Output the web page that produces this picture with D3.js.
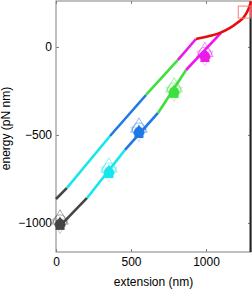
<!DOCTYPE html>
<html>
<head>
<meta charset="utf-8">
<script src="https://d3js.org/d3.v7.min.js"></script>
<style>
  body { margin: 0; background: #fff; }
  svg { display: block; }
</style>
</head>
<body>
<svg width="252" height="290"></svg>
<script>
// state colours (dark -> red)
var stateColors = ["#454545", "#19e6ec", "#1f78e6", "#3ee03e", "#ec18ec", "#e60d0d"];

// upper branch, one polyline per colour [extension nm, energy pN nm]
var upperX = [[0, 73], [73, 360], [360, 600], [600, 813], [813, 933]];
var upperY = [[-864, -801], [-801, -506], [-506, -273], [-273, -74], [-74, 45]];

// lower branch
var lowerX = [[27, 207], [207, 460], [460, 680], [680, 867], [867, 1100]];
var lowerY = [[-1017, -858], [-858, -585], [-585, -375], [-375, -131], [-131, 80]];

// red curve (unfolded)
var redX = [933, 1027, 1093, 1160, 1207, 1253, 1280, 1300];
var redY = [45, 63, 80, 108, 136, 170, 210, 256];

// markers at each state
var markX = [27, 353, 553, 787, 993];
var markY = [-1011, -716, -489, -261, -57];
var openY = [-985, -690, -463, -235, -33];

// red square marker
var sqX = [1255];
var sqY = [198];

var xTicks = [0, 500, 1000];
var yTicks = [-1000, -500, 0];

var svg = d3.select("svg"),
    mLeft = 56, mRight = 251, mTop = 1, mBottom = 252;

var x = d3.scaleLinear().domain([0, 1300]).range([mLeft, mRight]);
var y = d3.scaleLinear().domain([-1165, 261]).range([mBottom, mTop]);

var font = "'Liberation Sans', Arial, Helvetica, sans-serif";
var axisColor = "#808080";

// frame
svg.append("rect")
    .attr("x", mLeft).attr("y", mTop)
    .attr("width", mRight - mLeft).attr("height", mBottom - mTop)
    .attr("fill", "none")
    .attr("stroke", axisColor)
    .attr("stroke-width", 1);

// axes (ticks inward)
var gx = svg.append("g")
    .attr("transform", "translate(0," + mBottom + ")")
    .call(d3.axisBottom(x).tickValues(xTicks).tickSize(-3).tickPadding(5).tickFormat(d3.format("d")));
var gxt = svg.append("g")
    .attr("transform", "translate(0," + mTop + ")")
    .call(d3.axisTop(x).tickValues(xTicks).tickSize(-3).tickFormat(""));
var gy = svg.append("g")
    .attr("transform", "translate(" + mLeft + ",0)")
    .call(d3.axisLeft(y).tickValues(yTicks).tickSize(-3).tickPadding(4)
      .tickFormat(function(d) { return d < 0 ? "\u2212" + Math.abs(d) : d; }));
var gyr = svg.append("g")
    .attr("transform", "translate(" + mRight + ",0)")
    .call(d3.axisRight(y).tickValues(yTicks).tickSize(-3).tickFormat(""));

[gx, gxt, gy, gyr].forEach(function(g) {
  g.select(".domain").remove();
  g.selectAll(".tick line").attr("stroke", axisColor);
  g.selectAll("text")
    .attr("fill", "#000")
    .attr("font-family", font)
    .style("font-size", "12px");
});

// lines
var line = d3.line()
    .x(function(d) { return x(d[0]); })
    .y(function(d) { return y(d[1]); });

function branch(xs, ys) {
  for (var i = 0; i < xs.length; i++) {
    svg.append("path")
      .datum([[xs[i][0], ys[i][0]], [xs[i][1], ys[i][1]]])
      .attr("fill", "none")
      .attr("stroke", stateColors[i])
      .attr("stroke-width", 2.6)
      .attr("stroke-linecap", "butt")
      .attr("d", line);
  }
}
branch(upperX, upperY);
branch(lowerX, lowerY);

var redPts = redX.map(function(v, i) { return [v, redY[i]]; });
svg.append("path")
    .datum(redPts)
    .attr("fill", "none")
    .attr("stroke", stateColors[5])
    .attr("stroke-width", 2.6)
    .attr("d", line.curve(d3.curveMonotoneX));

// right edge: vertical lines
svg.append("line")
    .attr("x1", mRight - 0.5).attr("x2", mRight - 0.5)
    .attr("y1", mTop).attr("y2", y(sqY[0]) + 5)
    .attr("stroke", stateColors[5]).attr("stroke-width", 2);
svg.append("line")
    .attr("x1", mRight - 0.5).attr("x2", mRight - 0.5)
    .attr("y1", y(sqY[0]) + 5).attr("y2", mBottom)
    .attr("stroke", "#222").attr("stroke-width", 2);

// red square
svg.append("rect")
    .attr("x", x(sqX[0]) - 6).attr("y", y(sqY[0]) - 6)
    .attr("width", 12).attr("height", 12)
    .attr("fill", "none")
    .attr("stroke", "#f08080")
    .attr("stroke-width", 1);

// state markers
var bigTri = d3.symbol().type(d3.symbolTriangle).size(120);
var smallTri = d3.symbol().type(d3.symbolTriangle).size(55);
for (var i = 0; i < markX.length; i++) {
  var cx = x(markX[i]), cy = y(markY[i]), oy = y(openY[i]);
  var c = stateColors[i];
  // open markers (slightly above)
  svg.append("path")
    .attr("d", bigTri())
    .attr("transform", "translate(" + cx + "," + (oy - 1) + ")")
    .attr("fill", "none").attr("stroke", c).attr("stroke-opacity", 0.6).attr("stroke-width", 0.8);
  svg.append("circle")
    .attr("cx", cx).attr("cy", oy + 1).attr("r", 6.5)
    .attr("fill", "none").attr("stroke", c).attr("stroke-opacity", 0.6).attr("stroke-width", 0.8);
  svg.append("path")
    .attr("d", bigTri())
    .attr("transform", "translate(" + cx + "," + (cy - 1) + ") rotate(180)")
    .attr("fill", "none").attr("stroke", c).attr("stroke-opacity", 0.35).attr("stroke-width", 0.8);
  // filled markers
  svg.append("circle")
    .attr("cx", cx).attr("cy", cy - 1).attr("r", 5)
    .attr("fill", c);
  svg.append("path")
    .attr("d", smallTri())
    .attr("transform", "translate(" + cx + "," + (cy - 2) + ")")
    .attr("fill", c);
  svg.append("rect")
    .attr("x", cx - 4.5).attr("y", cy - 2)
    .attr("width", 9).attr("height", 7)
    .attr("fill", c);
}

// axis labels
svg.append("text")
    .attr("x", (mLeft + mRight) / 2)
    .attr("y", 286)
    .attr("text-anchor", "middle")
    .attr("font-family", font)
    .style("font-size", "12px")
    .text("extension (nm)");

svg.append("text")
    .attr("transform", "translate(10," + ((mTop + mBottom) / 2 + 2) + ") rotate(-90)")
    .attr("text-anchor", "middle")
    .attr("font-family", font)
    .style("font-size", "12px")
    .text("energy (pN nm)");
</script>
</body>
</html>
